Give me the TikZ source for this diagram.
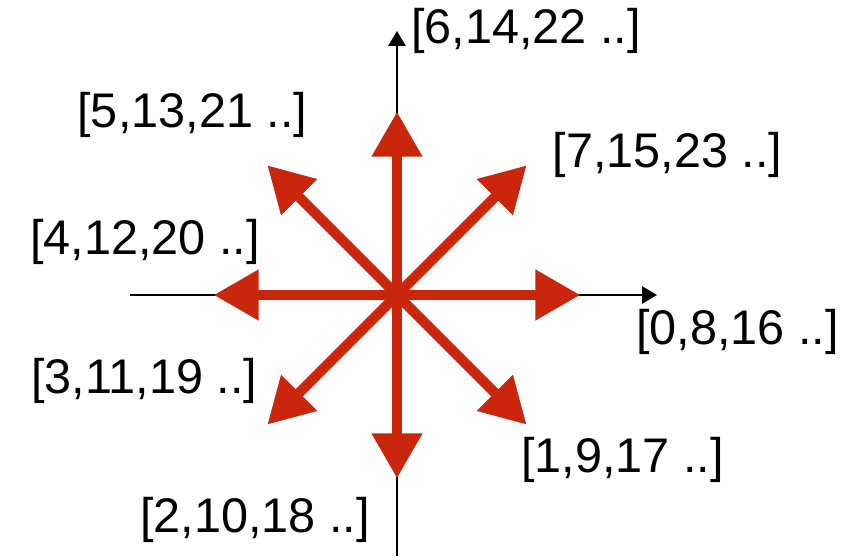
\documentclass[tikz,border=0pt]{standalone}
\usepackage{fontspec}
\setmainfont{Liberation Sans}
\usetikzlibrary{arrows.meta, positioning, calc}
\definecolor{dircolor}{RGB}{201,38,11}

\begin{document}
\begin{tikzpicture}[
    axis/.style={draw=black, line width=1.7pt, -{Triangle[length=0.45cm, width=0.52cm]}},
    dirarrow/.style={draw=dircolor, line width=8.5pt, -{Triangle[length=1.35cm, width=1.45cm]}},
    lbl/.style={inner sep=0pt, font=\fontsize{41.5}{45}\selectfont}]

    \useasboundingbox (-11.91,-7.83) rectangle (14.01,8.85);

    \coordinate (o) at (0,0);
    \coordinate (xstart) at (-8.01,0);
    \coordinate (xend) at (7.8,0);
    \coordinate (ystart) at (0,-7.83);
    \coordinate (yend) at (0,7.92);

    % axes
    \draw [axis] (xstart) -- (xend);
    \draw [axis] (ystart) -- (yend);

    % eight directions
    \coordinate (east) at (0:5.5);
    \coordinate (northeast) at (45:5.5);
    \coordinate (north) at (90:5.5);
    \coordinate (northwest) at (135:5.5);
    \coordinate (west) at (180:5.5);
    \coordinate (southwest) at (225:5.5);
    \coordinate (south) at (270:5.5);
    \coordinate (southeast) at (315:5.5);

    \foreach \d in {east, northeast, north, northwest, west, southwest, south, southeast}
        \draw [dirarrow] (o) -- (\d);

    % labels
    \node [lbl] (eastlbl) at (10.22,-1.11) {[0,8,16 ..]};
    \node [lbl] (southeastlbl) at (6.77,-4.95) {[1,9,17 ..]};
    \node [lbl] (southlbl) at (-4.26,-6.75) {[2,10,18 ..]};
    \node [lbl] (southwestlbl) at (-7.58,-2.57) {[3,11,19 ..]};
    \node [lbl] (westlbl) at (-7.56,1.6) {[4,12,20 ..]};
    \node [lbl] (northwestlbl) at (-6.14,5.4) {[5,13,21 ..]};
    \node [lbl] (northlbl) at (3.87,7.91) {[6,14,22 ..]};
    \node [lbl] (northeastlbl) at (8.12,4.2) {[7,15,23 ..]};

\end{tikzpicture}
\end{document}
